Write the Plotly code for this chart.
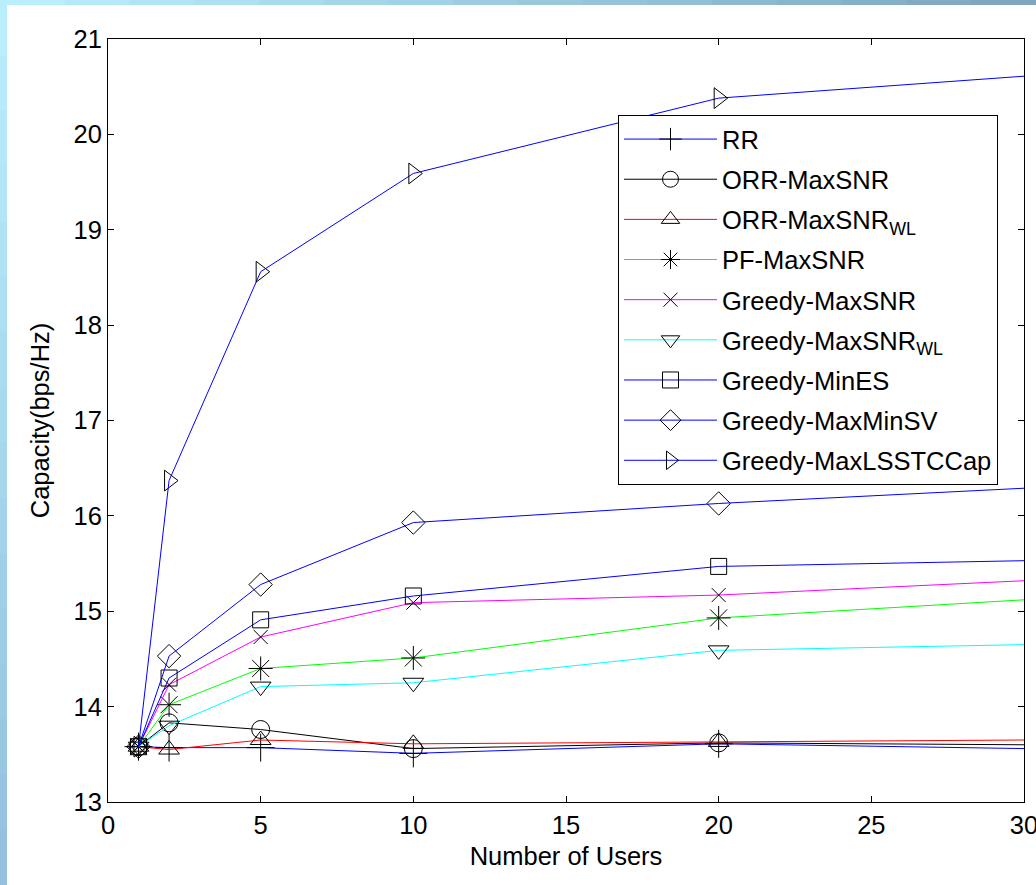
import plotly.graph_objects as go

# ---------------- data ----------------
users = [1, 2, 5, 10, 20]
users_tail = [20, 30]

names = ["RR", "ORR-MaxSNR", "ORR-MaxSNR<sub>WL</sub>", "PF-MaxSNR", "Greedy-MaxSNR",
         "Greedy-MaxSNR<sub>WL</sub>", "Greedy-MinES", "Greedy-MaxMinSV", "Greedy-MaxLSSTCCap"]

rr = [13.58, 13.57, 13.57, 13.51, 13.61]
orr_maxsnr = [13.58, 13.83, 13.76, 13.56, 13.62]
orr_maxsnr_wl = [13.58, 13.55, 13.65, 13.61, 13.63]
pf_maxsnr = [13.58, 14.02, 14.40, 14.51, 14.93]
greedy_maxsnr = [13.58, 14.23, 14.73, 15.09, 15.17]
greedy_maxsnr_wl = [13.58, 13.80, 14.21, 14.25, 14.59]
greedy_mines = [13.58, 14.30, 14.91, 15.16, 15.47]
greedy_maxminsv = [13.58, 14.53, 15.28, 15.93, 16.13]
greedy_maxlsstccap = [13.58, 16.37, 18.56, 19.59, 20.38]

# value of each curve where it leaves the plot at 30 users
tail_30 = [13.56, 13.60, 13.65, 15.12, 15.32, 14.65, 15.53, 16.29, 20.61]

series = [rr, orr_maxsnr, orr_maxsnr_wl, pf_maxsnr, greedy_maxsnr,
          greedy_maxsnr_wl, greedy_mines, greedy_maxminsv, greedy_maxlsstccap]

# ---------------- styles ----------------
line_colors = ["#0000ff", "#000000", "#ff0000", "#00ff00", "#ff00ff",
               "#00ffff", "#0000ff", "#0000ff", "#0000ff"]
symbols = ["cross-thin-open", "circle-open", "triangle-up-open", "asterisk-open", "x-thin-open",
           "triangle-down-open", "square-open", "diamond-open", "triangle-right-open"]
sizes = [20, 18, 18, 20, 14, 18, 16, 18, 18]

FONT = "Liberation Sans, Arial, sans-serif"
FS = 25.5

fig = go.Figure()
for name, ys, col, t30 in zip(names, series, line_colors, tail_30):
    # segment from 20 users to the right edge (no marker)
    fig.add_trace(go.Scatter(
        x=users_tail, y=[ys[-1], t30], mode="lines",
        line=dict(color=col, width=1), showlegend=False, hoverinfo="skip"))
for i, (name, ys, col, sym, sz) in enumerate(zip(names, series, line_colors, symbols, sizes)):
    fig.add_trace(go.Scatter(
        x=users, y=ys, mode="lines+markers", name=name, legendgroup=f"g{i}",
        line=dict(color=col, width=1),
        marker=dict(symbol=sym, size=sz, color="black",
                    line=dict(color="black", width=1)),
        cliponaxis=False))

# plot area in pixels: x 108..1024, y 39..802
PL, PR, PT, PB = 108, 1024, 39, 802
W, H = 1036, 885


def px_x(p):
    return (p - PL) / (PR - PL)


def px_y(p):
    return (PB - p) / (PB - PT)


def mix(c1, c2, t):
    a = [int(c1[i:i + 2], 16) for i in (1, 3, 5)]
    b = [int(c2[i:i + 2], 16) for i in (1, 3, 5)]
    return "#" + "".join(f"{round(a[k] + (b[k] - a[k]) * t):02x}" for k in range(3))


shapes = []
# decorative slide frame: gradient strips on top and left
N = 16
for i in range(N):
    shapes.append(dict(type="rect", xref="paper", yref="paper", layer="below",
                       x0=px_x(W * i / N), x1=px_x(W * (i + 1) / N + 1),
                       y0=px_y(5), y1=px_y(0),
                       fillcolor=mix("#b9eefd", "#7ea6be", i / (N - 1)), line=dict(width=0)))
    shapes.append(dict(type="rect", xref="paper", yref="paper", layer="below",
                       x0=px_x(0), x1=px_x(7),
                       y0=px_y(H * (i + 1) / N + 1), y1=px_y(H * i / N),
                       fillcolor=mix("#b9eefd", "#93c1de", i / (N - 1)), line=dict(width=0)))

fig.update_layout(
    width=W, height=H,
    margin=dict(l=PL, r=W - PR, t=PT, b=H - PB, autoexpand=False),
    paper_bgcolor="white",
    plot_bgcolor="white",
    font=dict(family=FONT, size=FS, color="black"),
    shapes=shapes,
    xaxis=dict(range=[0, 30], dtick=5, tick0=0, showline=True, linecolor="black",
               linewidth=1, mirror="ticks", ticks="inside", ticklen=6,
               tickcolor="black", showgrid=False, zeroline=False,
               ticklabeloverflow="allow", automargin=False,
               title=dict(text="Number of Users", font=dict(size=FS), standoff=9),
               tickfont=dict(size=FS)),
    yaxis=dict(range=[13, 21], dtick=1, tick0=13, showline=True, linecolor="black",
               linewidth=1, mirror="ticks", ticks="inside", ticklen=6,
               tickcolor="black", showgrid=False, zeroline=False,
               ticklabeloverflow="allow", automargin=False,
               title=dict(text="Capacity(bps/Hz)", font=dict(size=FS), standoff=16),
               tickfont=dict(size=FS)),
    legend=dict(x=px_x(618), y=px_y(115), xanchor="left", yanchor="top",
                bgcolor="white", bordercolor="black", borderwidth=1,
                font=dict(size=FS), itemwidth=93, tracegroupgap=4),
    showlegend=True,
)

fig.write_html("out.html", config={"displayModeBar": False},
               post_script="document.body.style.margin='0px';document.body.style.overflow='hidden';")
